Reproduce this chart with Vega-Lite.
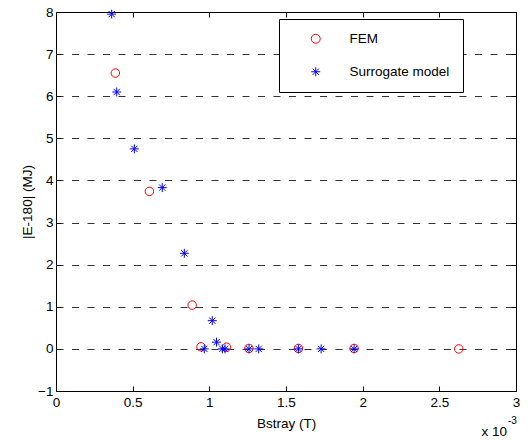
{
  "$schema": "https://vega.github.io/schema/vega-lite/v6.json",
  "width": 460,
  "height": 379,
  "autosize": {"type": "none"},
  "padding": {"left": 56, "top": 12, "right": 15, "bottom": 49},
  "background": "white",
  "config": {
    "font": "Liberation Sans",
    "view": {"stroke": "black", "strokeWidth": 1},
    "axis": {
      "labelFont": "Liberation Sans",
      "labelFontSize": 13.5,
      "labelColor": "black",
      "titleFont": "Liberation Sans",
      "titleFontSize": 13.5,
      "titleFontWeight": "normal",
      "titleColor": "black",
      "domainColor": "black",
      "tickColor": "black",
      "grid": false
    },
    "legend": {
      "orient": "none",
      "legendX": 223,
      "legendY": 7,
      "strokeColor": "black",
      "fillColor": "white",
      "padding": 13,
      "rowPadding": 18,
      "symbolOffset": 17,
      "labelOffset": 27,
      "symbolSize": 80,
      "symbolStrokeWidth": 1,
      "labelFont": "Liberation Sans",
      "labelFontSize": 13.5,
      "labelColor": "black"
    }
  },
  "data": {
    "values": [
      {"series": "FEM", "Bstray": 0.387, "E": 6.55},
      {"series": "FEM", "Bstray": 0.609, "E": 3.74},
      {"series": "FEM", "Bstray": 0.888, "E": 1.04},
      {"series": "FEM", "Bstray": 0.946, "E": 0.05},
      {"series": "FEM", "Bstray": 1.112, "E": 0.04},
      {"series": "FEM", "Bstray": 1.258, "E": 0.01},
      {"series": "FEM", "Bstray": 1.581, "E": 0.01},
      {"series": "FEM", "Bstray": 1.944, "E": 0.01},
      {"series": "FEM", "Bstray": 2.627, "E": 0.0},
      {"series": "Surrogate model", "Bstray": 0.363, "E": 7.95},
      {"series": "Surrogate model", "Bstray": 0.396, "E": 6.1},
      {"series": "Surrogate model", "Bstray": 0.511, "E": 4.75},
      {"series": "Surrogate model", "Bstray": 0.693, "E": 3.83},
      {"series": "Surrogate model", "Bstray": 0.837, "E": 2.27},
      {"series": "Surrogate model", "Bstray": 0.967, "E": 0.0},
      {"series": "Surrogate model", "Bstray": 1.019, "E": 0.67},
      {"series": "Surrogate model", "Bstray": 1.047, "E": 0.16},
      {"series": "Surrogate model", "Bstray": 1.085, "E": 0.0},
      {"series": "Surrogate model", "Bstray": 1.102, "E": 0.0},
      {"series": "Surrogate model", "Bstray": 1.259, "E": 0.0},
      {"series": "Surrogate model", "Bstray": 1.322, "E": 0.0},
      {"series": "Surrogate model", "Bstray": 1.581, "E": 0.0},
      {"series": "Surrogate model", "Bstray": 1.729, "E": 0.0},
      {"series": "Surrogate model", "Bstray": 1.944, "E": 0.0}
    ]
  },
  "layer": [
    {
      "transform": [{"filter": "datum.series === 'FEM'"}],
      "mark": {"type": "point", "filled": false, "size": 72, "strokeWidth": 1, "opacity": 1},
      "encoding": {
        "x": {
          "field": "Bstray", "type": "quantitative",
          "scale": {"domain": [0, 3], "nice": false, "zero": false},
          "axis": {
            "orient": "bottom", "values": [0, 0.5, 1, 1.5, 2, 2.5, 3], "format": "~g",
            "tickSize": -5, "labelPadding": 9, "labelFlush": false,
            "title": "Bstray (T)", "titlePadding": 8
          }
        },
        "y": {
          "field": "E", "type": "quantitative",
          "scale": {"domain": [-1, 8], "nice": false, "zero": false},
          "axis": {
            "orient": "left", "values": [-1, 0, 1, 2, 3, 4, 5, 6, 7, 8],
            "tickSize": -5, "labelPadding": 8,
            "title": "|E-180| (MJ)", "titlePadding": 3,
            "grid": true, "gridDash": [7, 8.5], "gridColor": "#333333", "gridWidth": 1,
            "gridOpacity": {"condition": {"test": "datum.value > 7.5 || datum.value < -0.5", "value": 0}, "value": 1}
          }
        },
        "color": {
          "field": "series", "type": "nominal",
          "scale": {"domain": ["FEM", "Surrogate model"], "range": ["#ff0000", "#0000ff"]},
          "legend": {"title": null}
        },
        "shape": {
          "field": "series", "type": "nominal",
          "scale": {"domain": ["FEM", "Surrogate model"], "range": ["circle", "M0,-1L0,1M-1,0L1,0M-0.7,-0.7L0.7,0.7M-0.7,0.7L0.7,-0.7"]},
          "legend": {"title": null}
        }
      }
    },
    {
      "transform": [{"filter": "datum.series === 'Surrogate model'"}],
      "mark": {"type": "point", "filled": false, "size": 80, "strokeWidth": 1, "opacity": 1},
      "encoding": {
        "x": {
          "field": "Bstray", "type": "quantitative",
          "axis": {"orient": "top", "values": [0, 0.5, 1, 1.5, 2, 2.5, 3], "labels": false, "tickSize": -5, "domain": false, "title": null}
        },
        "y": {
          "field": "E", "type": "quantitative",
          "axis": {"orient": "right", "values": [-1, 0, 1, 2, 3, 4, 5, 6, 7, 8], "labels": false, "tickSize": -5, "domain": false, "title": null}
        },
        "color": {"field": "series", "type": "nominal", "legend": {"title": null}},
        "shape": {"field": "series", "type": "nominal", "legend": {"title": null}}
      }
    },
    {
      "data": {"values": [{"label": "x 10"}]},
      "mark": {"type": "text", "align": "right", "baseline": "alphabetic", "dx": -9, "dy": 45, "fontSize": 13.5, "font": "Liberation Sans", "color": "black"},
      "encoding": {
        "text": {"field": "label"},
        "x": {"datum": 3, "type": "quantitative", "axis": null},
        "y": {"datum": -1, "type": "quantitative", "axis": null}
      }
    },
    {
      "data": {"values": [{"label": "-3"}]},
      "mark": {"type": "text", "align": "left", "baseline": "alphabetic", "dx": -8, "dy": 33, "fontSize": 10, "font": "Liberation Sans", "color": "black"},
      "encoding": {
        "text": {"field": "label"},
        "x": {"datum": 3, "type": "quantitative", "axis": null},
        "y": {"datum": -1, "type": "quantitative", "axis": null}
      }
    }
  ],
  "resolve": {"axis": {"x": "independent", "y": "independent"}}
}
